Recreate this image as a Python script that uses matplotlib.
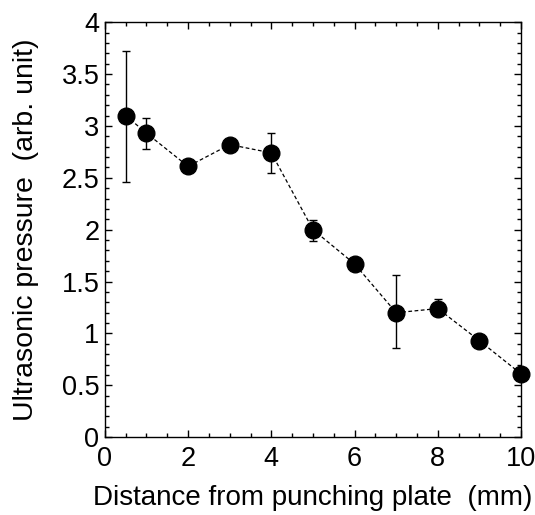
import matplotlib
matplotlib.use("Agg")
import matplotlib.pyplot as plt
from matplotlib.ticker import MultipleLocator, FuncFormatter

plt.rcParams['font.family'] = ['Liberation Sans', 'DejaVu Sans']

distance = [0.5, 1, 2, 3, 4, 5, 6, 7, 8, 9, 10]
pressure = [3.10, 2.93, 2.61, 2.82, 2.74, 2.00, 1.67, 1.20, 1.24, 0.93, 0.61]
err_low = [0.64, 0.15, 0.0, 0.0, 0.19, 0.11, 0.0, 0.34, 0.07, 0.0, 0.06]
err_high = [0.62, 0.15, 0.0, 0.0, 0.19, 0.09, 0.0, 0.36, 0.09, 0.0, 0.06]

fig = plt.figure(figsize=(5.35, 5.15), dpi=100)
ax = fig.add_axes([0.196, 0.151, 0.778, 0.806])

cont = ax.errorbar(distance, pressure, yerr=[err_low, err_high], fmt='o', color='black',
                   markersize=12, ecolor='black', elinewidth=1, capsize=3, capthick=1,
                   linestyle=(0, (3, 2)), linewidth=0.9, zorder=3)
for art in cont.get_children():
    art.set_clip_on(False)

ax.set_xlim(0, 10)
ax.set_ylim(0, 4)
ax.xaxis.set_major_locator(MultipleLocator(2))
ax.xaxis.set_minor_locator(MultipleLocator(0.5))
ax.yaxis.set_major_locator(MultipleLocator(0.5))
ax.yaxis.set_minor_locator(MultipleLocator(0.1))
ax.tick_params(which='both', direction='in', top=True, right=True, labelsize=19.5)
ax.tick_params(which='major', length=5, width=1)
ax.tick_params(axis='x', which='major', pad=6)
ax.tick_params(axis='y', which='major', pad=4)
ax.tick_params(which='minor', length=3, width=1)
ax.xaxis.set_major_formatter(FuncFormatter(lambda v, p: f"{v:g}"))
ax.yaxis.set_major_formatter(FuncFormatter(lambda v, p: f"{v:g}"))
ax.set_xlabel("Distance from punching plate  (mm)", fontsize=20, labelpad=10)
ax.set_ylabel("Ultrasonic pressure  (arb. unit)", fontsize=20.5, labelpad=16)
for s in ax.spines.values():
    s.set_linewidth(1)

fig.savefig("out.png", dpi=100)
